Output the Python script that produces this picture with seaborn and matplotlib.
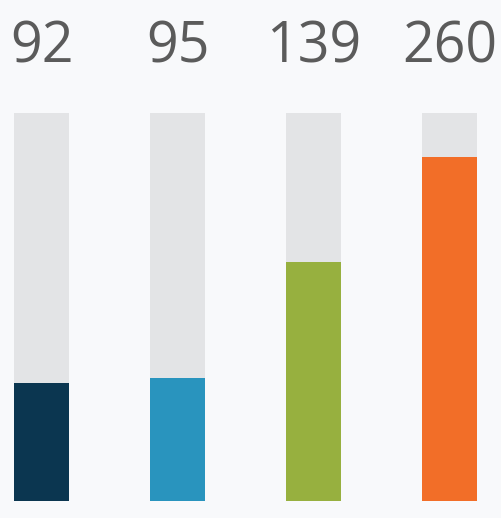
import matplotlib
matplotlib.use("Agg")
import matplotlib.pyplot as plt
import seaborn as sns
import pandas as pd

categories = ["A", "B", "C", "D"]
labels = ["92", "95", "139", "260"]
fill_pct = [30.5, 31.8, 61.6, 88.7]
track_pct = [100, 100, 100, 100]
colors = ["#0b3650", "#2994be", "#97b03f", "#f26e28"]

bg = "#f8f9fb"
sns.set_theme(style="white")
plt.rcParams["font.family"] = ["Open Sans", "DejaVu Sans"]

fig = plt.figure(figsize=(5.02, 5.18), dpi=100, facecolor=bg)
ax = fig.add_axes([0, 0, 1, 1])
ax.set_facecolor(bg)

df = pd.DataFrame({"cat": categories, "fill": fill_pct, "track": track_pct, "label": labels})

sns.barplot(data=df, x="cat", y="track", color="#e3e4e6", width=0.405,
            saturation=1, ax=ax, linewidth=0)
sns.barplot(data=df, x="cat", y="fill", hue="cat", palette=colors, width=0.405,
            saturation=1, ax=ax, linewidth=0, legend=False)

for i, lab in enumerate(df["label"]):
    ax.text(i, 113.1, lab, ha="center", va="baseline", fontsize=40,
            fontweight="normal", color="#5b5b5b")

ax.set_xlim(-0.309, 3.387)
ax.set_ylim(-4.25, 129.1)
ax.axis("off")
fig.savefig("out.png", dpi=100, facecolor=bg)
